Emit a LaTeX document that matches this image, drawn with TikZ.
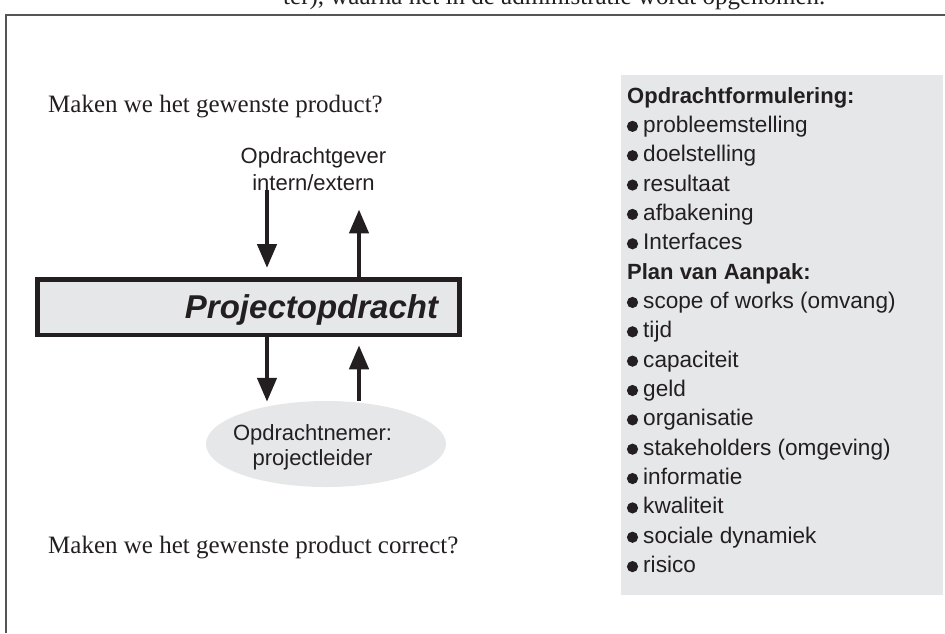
\documentclass[tikz,border=0pt]{standalone}
\usepackage{fontspec}
\setmainfont{Liberation Serif}
\setsansfont{Liberation Sans}
\usetikzlibrary{arrows.meta,shapes.geometric}
\definecolor{ink}{HTML}{231F20}
\definecolor{panelgray}{HTML}{E6E7E8}
\definecolor{framegray}{HTML}{555555}
\begin{document}
\begin{tikzpicture}[x=1pt,y=-1pt,
  flow/.style={line width=4.5pt, draw=ink, -{Triangle[width=19pt,length=24pt]}},
  sanstext/.style={font=\sffamily\fontsize{22}{27}\selectfont, text=ink, inner sep=0pt},
  seriftext/.style={font=\rmfamily\fontsize{25}{30}\selectfont, text=ink, inner sep=0pt, anchor=base west},
  listitem/.style={font=\sffamily\fontsize{22.6}{29}\selectfont, text=ink, inner sep=0pt, anchor=base west},
  listhead/.style={listitem, font=\sffamily\bfseries\fontsize{22}{29}\selectfont},
  bullet/.style={ink},
]
\useasboundingbox (0,0) rectangle (945,633);

% running text of the page above the figure
\begin{scope}
  \clip (0,0) rectangle (945,633);
  \node[seriftext] (runon) at (283,4) {ter), waarna het in de administratie wordt opgenomen.};
\end{scope}

% figure frame (open to the right and bottom)
\coordinate (fbl) at (6,633);
\coordinate (ftl) at (6,15);
\coordinate (ftr) at (945,15);
\draw[framegray, line width=1.8pt] (fbl) -- (ftl) -- (ftr);

% questions
\node[seriftext] (q1) at (48,112) {Maken we het gewenste product?};
\node[seriftext] (q2) at (48,553) {Maken we het gewenste product correct?};

% central assignment box
\node[draw=ink, line width=4.5pt, fill=panelgray, minimum width=422pt, minimum height=55.5pt, inner sep=0pt]
  (box) at (248.5,307) {};
\node[font=\sffamily\bfseries\itshape\fontsize{33}{38}\selectfont, text=ink, inner sep=0pt, anchor=base]
  (boxlabel) at (311.5,318) {Projectopdracht};

% client
\node[sanstext, anchor=base] (giver1) at (313.5,163) {Opdrachtgever};
\node[sanstext, anchor=base] (giver2) at (313.5,190) {intern/extern};

% contractor
\node[ellipse, fill=panelgray, minimum width=240pt, minimum height=86pt, inner sep=0pt] (ell) at (326,444) {};
\node[sanstext, anchor=base] (taker1) at (312.5,440) {Opdrachtnemer:};
\node[sanstext, anchor=base] (taker2) at (312.5,465) {projectleider};

% arrow columns
\coordinate (colL) at (267,0);
\coordinate (colR) at (359,0);
\draw[flow, shorten >=9pt] (colL |- giver2.south) -- (colL |- box.north);
\draw[flow, shorten >=19pt] (colR |- box.north) -- (colR |- giver2.south);
\draw[flow, shorten >=-1pt] (colL |- box.south) -- (colL |- ell.north);
\draw[flow, shorten >=8.25pt] (colR |- ell.north) -- (colR |- box.south);

% checklist panel
\fill[panelgray] (621,75) rectangle (943,595);
\node[listhead] (h1) at (627,103) {Opdrachtformulering:};
\node[listhead] (h2) at (627,279.1) {Plan van Aanpak:};
\foreach \txt [count=\k] in {probleemstelling,doelstelling,resultaat,afbakening,Interfaces}{
  \node[listitem] (a\k) at (643,{103+29.35*\k}) {\txt};
  \fill[bullet] ([xshift=-10.5pt,yshift=6pt]a\k.base west) circle (5.6pt);
}
\foreach \txt [count=\k] in {scope of works (omvang),tijd,capaciteit,geld,organisatie,stakeholders (omgeving),informatie,kwaliteit,sociale dynamiek,risico}{
  \node[listitem] (b\k) at (643,{279.1+29.35*\k}) {\txt};
  \fill[bullet] ([xshift=-10.5pt,yshift=6pt]b\k.base west) circle (5.6pt);
}
\end{tikzpicture}
\end{document}
